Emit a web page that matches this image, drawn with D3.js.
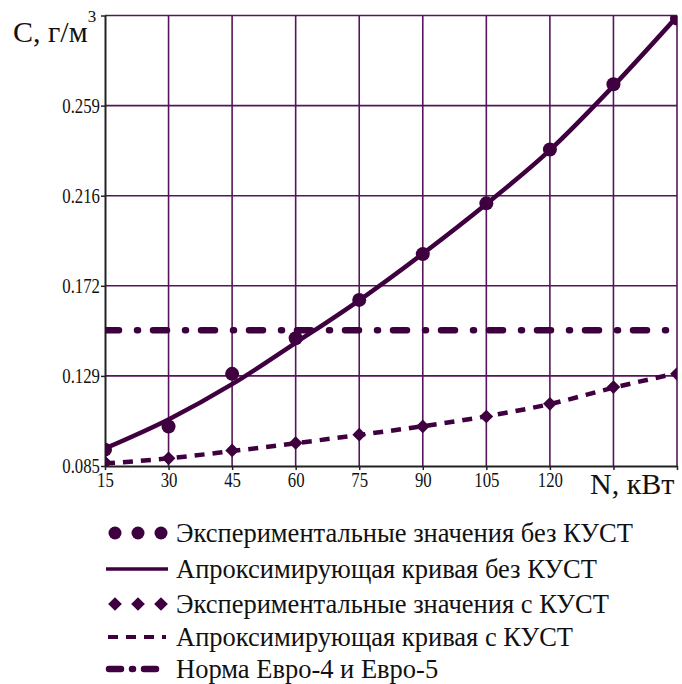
<!DOCTYPE html>
<html>
<head>
<meta charset="utf-8">
<script src="https://cdn.jsdelivr.net/npm/d3@7"></script>
<style>
  html, body { margin: 0; padding: 0; background: #fff; }
  svg { display: block; }
</style>
</head>
<body>
<svg id="chart" width="682" height="684"></svg>
<script>
// Engine power, kW
const powerKW = [15, 30, 45, 60, 75, 90, 105, 120, 135, 150];

// Concentration C, g/m3 — measured points and fitted curves
const measuredNoCat = [0.0929, 0.1041, 0.1295, 0.1467, 0.1652, 0.1873, 0.2118, 0.2378, 0.2693, 0.3010];
const fittedNoCat   = [0.0935, 0.1075, 0.1245, 0.1445, 0.1650, 0.1875, 0.2115, 0.2375, 0.2685, 0.3020];
const measuredCat   = [0.0868, 0.0887, 0.0925, 0.0961, 0.1001, 0.1041, 0.1089, 0.1150, 0.1231, 0.1295];
const fittedCat     = [0.0862, 0.0887, 0.0922, 0.0960, 0.1000, 0.1042, 0.1090, 0.1149, 0.1228, 0.1298];

// Euro-4 / Euro-5 limit
const euroLimit = 0.1505;

// Axis ticks
const xTickValues = [15, 30, 45, 60, 75, 90, 105, 120, 135, 150];
const xTickLabels = ["15", "30", "45", "60", "75", "90", "105", "120", "", ""];
const yTickValues = [0.085, 0.1285, 0.172, 0.2155, 0.259, 0.3025];
const yTickLabels = ["0.085", "0.129", "0.172", "0.216", "0.259", ""];

const legendLabels = [
  "Экспериментальные значения без КУСТ",
  "Апроксимирующая кривая без КУСТ",
  "Экспериментальные значения с КУСТ",
  "Апроксимирующая кривая с КУСТ",
  "Норма Евро-4 и Евро-5"
];

const markColor = "#3f003f";
const gridColor = "#55155a";
const tickFont = 20, tickSqueeze = 0.84;

const svg = d3.select("#chart");
const plot = { left: 105, right: 677, top: 15.5, bottom: 466 };

const x = d3.scaleLinear().domain([15, 150]).range([plot.left, plot.right]);
const y = d3.scaleLinear().domain([0.085, 0.3025]).range([plot.bottom, plot.top]);

svg.append("defs").append("clipPath").attr("id", "plotClip")
  .append("rect")
  .attr("x", plot.left).attr("y", plot.top)
  .attr("width", plot.right - plot.left).attr("height", plot.bottom - plot.top);

// Grid
const grid = svg.append("g");
grid.selectAll("line.vx").data(xTickValues.slice(1)).join("line")
  .attr("x1", d => x(d)).attr("x2", d => x(d))
  .attr("y1", plot.top).attr("y2", plot.bottom)
  .attr("stroke", gridColor).attr("stroke-width", 1.6);
grid.selectAll("line.hy").data(yTickValues.slice(1)).join("line")
  .attr("x1", plot.left).attr("x2", plot.right)
  .attr("y1", d => y(d)).attr("y2", d => y(d))
  .attr("stroke", gridColor).attr("stroke-width", 1.6);

// Axes
const xAxis = d3.axisBottom(x).tickValues(xTickValues)
  .tickFormat((d, i) => xTickLabels[i]).tickSize(4).tickSizeOuter(0);
const yAxis = d3.axisLeft(y).tickValues(yTickValues)
  .tickFormat((d, i) => yTickLabels[i]).tickSize(4).tickSizeOuter(0);

const gx = svg.append("g").attr("transform", `translate(0,${plot.bottom})`).call(xAxis);
gx.select(".domain").attr("stroke", "#222").attr("stroke-width", 2);
gx.selectAll(".tick line").attr("stroke", "#222").attr("stroke-width", 1.5);
gx.selectAll(".tick text").attr("font-size", tickFont).attr("dy", "0.75em").attr("y", 6)
  .attr("transform", `scale(${tickSqueeze},1)`);

const gy = svg.append("g").attr("transform", `translate(${plot.left},0)`).call(yAxis);
gy.select(".domain").attr("stroke", "#222").attr("stroke-width", 2);
gy.selectAll(".tick line").attr("stroke", "#222").attr("stroke-width", 1.5);
gy.selectAll(".tick text").attr("font-size", tickFont).attr("x", -5 / tickSqueeze)
  .attr("transform", `scale(${tickSqueeze},1)`);

// Data layer
const layer = svg.append("g").attr("clip-path", "url(#plotClip)");

const line = d3.line()
  .x((d, i) => x(powerKW[i]))
  .y(d => y(d))
  .curve(d3.curveMonotoneX);

// Euro limit, dash-dot
layer.append("line")
  .attr("x1", x(15)).attr("x2", x(150))
  .attr("y1", y(euroLimit)).attr("y2", y(euroLimit))
  .attr("stroke", markColor).attr("stroke-width", 6.5)
  .attr("stroke-linecap", "round")
  .attr("stroke-dasharray", "14 18 1 15");

// Fitted curve with catalyst (dashed)
layer.append("path").datum(fittedCat)
  .attr("d", line).attr("fill", "none")
  .attr("stroke", markColor).attr("stroke-width", 4.5)
  .attr("stroke-dasharray", "10 8");

// Fitted curve without catalyst (solid)
layer.append("path").datum(fittedNoCat)
  .attr("d", line).attr("fill", "none")
  .attr("stroke", markColor).attr("stroke-width", 4.5);

// Measured without catalyst: circles
layer.selectAll("circle.m").data(measuredNoCat).join("circle")
  .attr("cx", (d, i) => x(powerKW[i])).attr("cy", d => y(d))
  .attr("r", 7).attr("fill", markColor);

// Measured with catalyst: diamonds
const diamond = d3.symbol().type(d3.symbolDiamond2).size(120);
layer.selectAll("path.dm").data(measuredCat).join("path")
  .attr("transform", (d, i) => `translate(${x(powerKW[i])},${y(d)})`)
  .attr("d", diamond).attr("fill", markColor);

// Axis titles
const yTitle = svg.append("text").attr("x", 13).attr("y", 42)
  .attr("font-size", 30);
yTitle.append("tspan").text("C, г/м");
yTitle.append("tspan").attr("font-size", 17).attr("dy", -20).text("3");

svg.append("text").attr("x", 590).attr("y", 494)
  .attr("font-size", 30).text("N, кВт");

// Legend
const legend = svg.append("g");
const rowY = [533, 569, 604, 637, 669];
const symX = [115, 138, 161];

legend.selectAll("text").data(legendLabels).join("text")
  .attr("x", 176).attr("y", (d, i) => rowY[i])
  .attr("dy", "0.35em").attr("font-size", 26.5).text(d => d);

legend.selectAll("circle").data(symX).join("circle")
  .attr("cx", d => d).attr("cy", rowY[0]).attr("r", 6.5).attr("fill", markColor);

legend.append("line").attr("x1", 106).attr("x2", 168)
  .attr("y1", rowY[1]).attr("y2", rowY[1])
  .attr("stroke", markColor).attr("stroke-width", 3.5);

legend.selectAll("path.ld").data(symX).join("path")
  .attr("transform", d => `translate(${d},${rowY[2]})`)
  .attr("d", diamond).attr("fill", markColor);

legend.append("line").attr("x1", 108).attr("x2", 166)
  .attr("y1", rowY[3]).attr("y2", rowY[3])
  .attr("stroke", markColor).attr("stroke-width", 4)
  .attr("stroke-dasharray", "10 8");

legend.append("line").attr("x1", 109).attr("x2", 164)
  .attr("y1", rowY[4]).attr("y2", rowY[4])
  .attr("stroke", markColor).attr("stroke-width", 6.5)
  .attr("stroke-linecap", "round")
  .attr("stroke-dasharray", "12 11 1 11");

// All text in a serif face
svg.selectAll("text").style("font-family", "serif").attr("fill", "#111");
</script>
</body>
</html>
